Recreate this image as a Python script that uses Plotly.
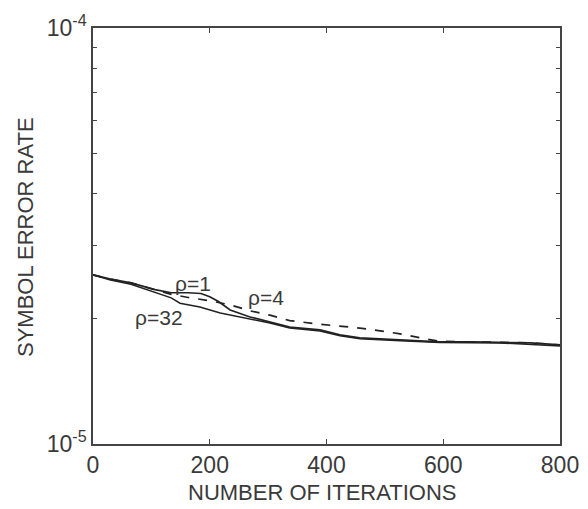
import plotly.graph_objects as go

# Iterations (x) and symbol error rate (y) for each rho
x_rho1 = [0, 30, 65, 106, 134, 163, 185, 200, 215, 235, 269, 303, 337, 389, 423, 457, 526, 594, 650, 697, 750, 800]
y_rho1 = [2.55e-5, 2.49e-5, 2.44e-5, 2.35e-5, 2.31e-5, 2.31e-5, 2.30e-5, 2.26e-5, 2.20e-5, 2.10e-5, 2.02e-5,
          1.965e-5, 1.91e-5, 1.88e-5, 1.83e-5, 1.80e-5, 1.78e-5, 1.76e-5, 1.76e-5, 1.755e-5, 1.75e-5, 1.73e-5]

x_rho4 = [0, 30, 65, 106, 134, 163, 200, 235, 269, 303, 337, 389, 423, 457, 492, 526, 560, 594, 650, 700, 750, 800]
y_rho4 = [2.55e-5, 2.49e-5, 2.44e-5, 2.35e-5, 2.29e-5, 2.25e-5, 2.21e-5, 2.16e-5, 2.09e-5, 2.04e-5, 1.98e-5,
          1.94e-5, 1.92e-5, 1.90e-5, 1.87e-5, 1.84e-5, 1.80e-5, 1.765e-5, 1.76e-5, 1.755e-5, 1.75e-5, 1.73e-5]

x_rho32 = [0, 30, 65, 106, 134, 149, 183, 218, 252, 303, 337, 389, 423, 457, 526, 594, 697, 800]
y_rho32 = [2.55e-5, 2.48e-5, 2.42e-5, 2.32e-5, 2.245e-5, 2.18e-5, 2.135e-5, 2.065e-5, 2.02e-5, 1.954e-5,
           1.90e-5, 1.87e-5, 1.82e-5, 1.79e-5, 1.77e-5, 1.755e-5, 1.75e-5, 1.72e-5]

x_ticks = [0, 200, 400, 600, 800]
y_major = [1e-5, 1e-4]
y_major_text = ["10<sup>-5</sup>", "10<sup>-4</sup>"]
y_minor = [2e-5, 3e-5, 4e-5, 5e-5, 6e-5, 7e-5, 8e-5, 9e-5]

labels = ["\u03c1=1", "\u03c1=4", "\u03c1=32"]
label_x = [171, 296, 113]
label_y = [-4.613, -4.647, -4.697]

FONT = "Liberation Sans, Arial"
TXT = "#3a3a3a"

fig = go.Figure()
fig.add_trace(go.Scatter(x=x_rho1, y=y_rho1, mode="lines", line=dict(color="#222", width=1.7), showlegend=False))
fig.add_trace(go.Scatter(x=x_rho4, y=y_rho4, mode="lines", line=dict(color="#222", width=1.7, dash="dash"), showlegend=False))
fig.add_trace(go.Scatter(x=x_rho32, y=y_rho32, mode="lines", line=dict(color="#222", width=1.5), showlegend=False))

for t, ax, ay in zip(labels, label_x, label_y):
    fig.add_annotation(x=ax, y=ay, text=t, showarrow=False,
                       font=dict(family=FONT, size=21, color=TXT))

# axis titles
fig.add_annotation(xref="paper", yref="paper", x=0.4925, y=-0.1154, text="NUMBER OF ITERATIONS",
                   showarrow=False, xanchor="center", yanchor="middle",
                   font=dict(family=FONT, size=22, color=TXT))
fig.add_annotation(xref="paper", yref="paper", x=-0.1435, y=0.4976, text="SYMBOL ERROR RATE",
                   showarrow=False, xanchor="center", yanchor="middle", textangle=-90,
                   font=dict(family=FONT, size=22, color=TXT))

tick_font = dict(family=FONT, size=23, color=TXT)
fig.update_layout(
    width=588, height=509,
    margin=dict(l=85, r=36, t=20, b=73),
    plot_bgcolor="white", paper_bgcolor="white",
    xaxis=dict(range=[0, 800], tickvals=x_ticks, ticks="inside", ticklen=5, tickcolor="#444",
               showline=True, linecolor="#444", linewidth=1.5, mirror="ticks", showgrid=False, zeroline=False,
               tickfont=tick_font, automargin=False),
    yaxis=dict(type="log", range=[-5, -4], tickvals=y_major, ticktext=y_major_text, ticks="inside",
               ticklen=5, tickcolor="#444", showline=True, linecolor="#444", linewidth=1.5, mirror="ticks",
               showgrid=False, zeroline=False, tickfont=tick_font, automargin=False,
               minor=dict(tickvals=y_minor, ticks="inside", ticklen=4, tickcolor="#444", showgrid=False)),
)

fig.write_html("out.html")
